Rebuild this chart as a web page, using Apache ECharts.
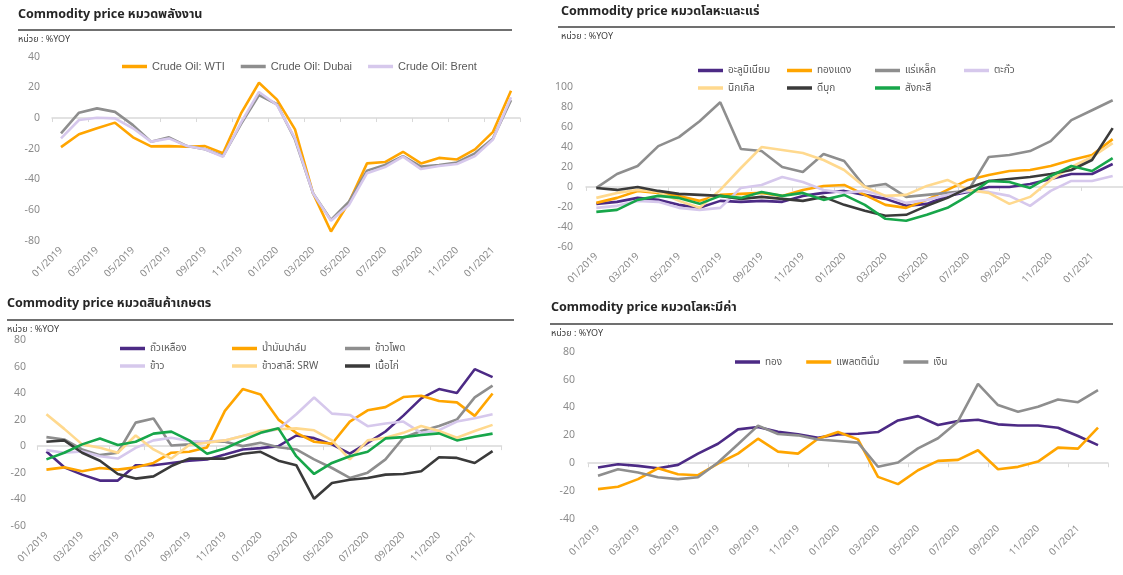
<!DOCTYPE html>
<html>
<head>
<meta charset="utf-8">
<script src="https://cdn.jsdelivr.net/npm/echarts@6/dist/echarts.min.js"></script>
<style>
  html, body { margin: 0; padding: 0; background: #fff; }
  #main { width: 1123px; height: 575px; }
</style>
</head>
<body>
<div id="main"></div>
<script>
// เดือน 01/2019 - 02/2021
const months = ['01/2019','02/2019','03/2019','04/2019','05/2019','06/2019','07/2019','08/2019','09/2019','10/2019','11/2019','12/2019',
  '01/2020','02/2020','03/2020','04/2020','05/2020','06/2020','07/2020','08/2020','09/2020','10/2020','11/2020','12/2020',
  '01/2021','02/2021'];

// หมวดพลังงาน
const wti   = [-19, -10.6, -6.7, -3, -12.6, -18.5, -18.3, -18.7, -18.3, -23, 3, 23, 12, -7.4, -49, -74, -55, -29.6, -28.7, -22, -29.6, -26, -27, -20.4, -9, 17.8];
const dubai = [-10, 3.5, 6.3, 4, -4.6, -15.4, -12.6, -18.3, -20.4, -24.8, -4, 15, 9, -14, -49, -66.5, -54.5, -34.3, -30.6, -24.8, -31.7, -30.6, -29, -23, -13.3, 11.7];
const brent = [-13.3, -1.3, 0.2, -0.2, -6.7, -15.4, -13.3, -18.3, -20.4, -25.2, -3, 17, 8.5, -13.3, -49, -67, -56.7, -36, -32, -25.2, -33.3, -31.3, -30, -24.8, -14, 13.5];

// หมวดโลหะและแร่
const aluminium = [-17, -15, -11, -13, -18, -21, -14, -15, -14, -15, -9, -6, -4, -8, -12, -19, -17, -9, -5, 0, 0, 3, 8, 13, 13, 23];
const copper    = [-16, -11, -4, -6, -9, -14, -8, -7, -6, -9, -3, 1, 2, -8, -18, -21, -13, -3, 7, 12, 16, 17, 21, 27, 32, 48];
const ironOre   = [-1, 13, 21, 41, 50, 66, 85, 38, 36, 20, 15, 33, 26, 0, 3, -10, -8, -6, -4, 30, 32, 36, 46, 67, 77, 87];
const lead      = [-21, -19, -14, -15, -21, -23, -21, -1, 2, 10, 5, -3, -6, -4, -9, -16, -13, -8, -4, -5, -9, -19, -4, 6, 6, 11];
const nickel    = [-11, -6, -3, -5, -14, -21, -3, 19, 40, 37, 34, 27, 17, 0, -9, -8, 1, 7, -3, -6, -17, -10, 7, 20, 30, 44];
const tin       = [-1, -3, 0, -4, -7, -8, -9, -12, -10, -12, -14, -10, -18, -24, -29, -28, -19, -11, -1, 6, 8, 10, 13, 17, 27, 59];
const zinc      = [-25, -23, -13, -9, -11, -17, -9, -11, -5, -9, -6, -13, -8, -18, -32, -34, -28, -21, -9, 6, 5, -1, 11, 21, 16, 29];

// หมวดสินค้าเกษตร
const soybean = [-4, -16, -21.5, -26, -26, -14.4, -14.4, -12.7, -11, -10, -6.3, -2.5, -1.5, 0, 8, 6, 1.3, -5.6, 2.5, 11, 23, 36, 43, 40, 58, 52];
const palmOil = [-17.7, -16, -19, -16.5, -17.7, -16, -12.7, -5, -4.3, -1, 26.6, 43, 39, 20, 10, 3.3, 1.8, 18.5, 27, 29.4, 37, 38, 34, 33, 22.8, 39.7];
const corn    = [6.8, 5, -2.5, -6.8, -5, 17.7, 20.8, 0.5, 1.3, 3.3, 3.3, 0, 2.5, -0.8, -2.5, -10, -16.5, -24, -20, -10, 6.3, 11.4, 15.2, 20, 36.7, 45.6];
const rice    = [-3, -5, -4, -7.6, -9.4, -1.3, 4.3, 6.3, 3.8, 3.3, 4.3, 7.6, 10, 12.7, 24, 36.7, 24.5, 23.5, 15, 17, 18.5, 10, 12, 18.5, 21, 24];
const wheat   = [24, 13, 1.3, -1.3, -5, 8, -2.5, -9.4, 0.8, 2.5, 4.3, 7.6, 11.4, 12.7, 13.4, 11.9, 4.3, -10, 4.3, 6.3, 10, 15.2, 11.4, 6.3, 11.4, 16];
const chicken = [3.3, 4.3, -5, -11, -21, -24.5, -22.8, -15, -9.4, -9.4, -9.4, -5.8, -4.3, -11, -14.4, -39.7, -27.8, -25.3, -24, -21.5, -21, -19, -8.4, -8.9, -12.7, -3.8];
const greenLine = [-10, -5, 1.3, 5.8, 0.8, 3.3, 9.4, 10.9, 4.3, -5.8, -1.8, 4.3, 10, 13.4, -7.6, -21, -12.7, -7.6, -4.3, 5.8, 6.8, 8.4, 9.6, 4.3, 7, 9.4];

// หมวดโลหะมีค่า
const gold     = [-3.1, -0.7, -1.9, -3.6, -1.2, 6.9, 14, 24.3, 26, 22.6, 20.7, 18.3, 20.7, 21.2, 22.4, 30.7, 33.8, 27.4, 30.2, 31.2, 27.9, 27.1, 27.1, 25.5, 19.5, 13];
const platinum = [-18.6, -16.9, -11.4, -3.6, -7.9, -8.6, -0.2, 6.9, 17.6, 8.3, 6.9, 17.6, 22.4, 17.1, -9.8, -15, -5, 1.7, 2.4, 9.3, -4.3, -2.6, 1.2, 11.2, 10.5, 25.5];
const silver   = [-9, -4.3, -6.7, -10, -11.4, -10, 0.5, 13.6, 27, 21, 20, 17, 16, 14.8, -2.5, 0.5, 10.7, 17.9, 30, 57, 41.7, 37, 40.5, 45.7, 43.8, 52.4];

const C = {
  orange: '#FFA500', gray: '#8E8E8E', lav: '#D6C8EC', purple: '#4C2A85',
  yellow: '#FFD98E', dark: '#3A3A3A', green: '#17A64A'
};
const FONT = "'Noto Sans', 'Noto Sans Thai', Tahoma, sans-serif";

const myChart = echarts.init(document.getElementById('main'));

const grids = [
  { left: 52, top: 56.7, width: 468, height: 184 },
  { left: 586, top: 87.3, width: 540, height: 159.4 },
  { left: 37.5, top: 340, width: 464, height: 185.7 },
  { left: 588, top: 351.7, width: 520, height: 167.3 }
];
const yRanges = [[-80, 40, 20], [-60, 100, 20], [-60, 80, 20], [-40, 80, 20]];
const yMargins = [12, 13, 11.5, 13];

const xAxes = [], yAxes = [];
grids.forEach((g, i) => {
  // เส้นแกนที่ศูนย์
  xAxes.push({
    gridIndex: i, type: 'category', data: months, position: 'bottom',
    axisLine: { onZero: true, lineStyle: { color: '#d9d9d9', width: 1.5 } },
    axisTick: { show: true, interval: 1, length: 4, lineStyle: { color: '#d9d9d9' } },
    axisLabel: { show: false, interval: 1 }
  });
  // ป้ายเดือนด้านล่าง
  xAxes.push({
    gridIndex: i, type: 'category', data: months, position: 'bottom',
    axisLine: { show: false, onZero: false }, axisTick: { show: false },
    axisLabel: { interval: 1, rotate: 45, fontSize: 10, color: '#8c8c8c', margin: 8, fontFamily: FONT }
  });
  yAxes.push({
    gridIndex: i, type: 'value', min: yRanges[i][0], max: yRanges[i][1], interval: yRanges[i][2],
    axisLine: { show: false }, axisTick: { show: false }, splitLine: { show: false },
    axisLabel: { fontSize: 10.5, color: '#8c8c8c', margin: yMargins[i], fontFamily: FONT }
  });
});

function line(name, data, color, g) {
  return {
    name: name, type: 'line', data: data, xAxisIndex: g * 2, yAxisIndex: g,
    symbol: 'none', lineStyle: { width: 2.6, color: color }, itemStyle: { color: color },
    animation: false
  };
}

const series = [
  line('Crude Oil: WTI', wti, C.orange, 0),
  line('Crude Oil: Dubai', dubai, C.gray, 0),
  line('Crude Oil: Brent', brent, C.lav, 0),

  line('อะลูมิเนียม', aluminium, C.purple, 1),
  line('ทองแดง', copper, C.orange, 1),
  line('แร่เหล็ก', ironOre, C.gray, 1),
  line('ตะกั่ว', lead, C.lav, 1),
  line('นิกเกิล', nickel, C.yellow, 1),
  line('ดีบุก', tin, C.dark, 1),
  line('สังกะสี', zinc, C.green, 1),

  line('ถั่วเหลือง', soybean, C.purple, 2),
  line('น้ำมันปาล์ม', palmOil, C.orange, 2),
  line('ข้าวโพด', corn, C.gray, 2),
  line('ข้าว', rice, C.lav, 2),
  line('ข้าวสาลี: SRW', wheat, C.yellow, 2),
  line('เนื้อไก่', chicken, C.dark, 2),
  line('-', greenLine, C.green, 2),

  line('ทอง', gold, C.purple, 3),
  line('แพลตตินั่ม', platinum, C.orange, 3),
  line('เงิน', silver, C.gray, 3)
];

function legend(names, left, top, opts) {
  return Object.assign({
    data: names, left: left, top: top, orient: 'horizontal', padding: 0,
    icon: 'rect', itemWidth: 25, itemHeight: 3.5, itemGap: 16, selectedMode: false,
    textStyle: { fontSize: 10, color: '#595959', fontFamily: FONT }
  }, opts || {});
}
// คอลัมน์ของคำอธิบาย (สองแถว)
function column(names, left, top) {
  return legend(names, left, top, { orient: 'vertical', itemGap: 7.5 });
}

const legends = [
  legend(['Crude Oil: WTI', 'Crude Oil: Dubai', 'Crude Oil: Brent'], 122, 61,
    { textStyle: { fontSize: 11, color: '#595959', fontFamily: "'Liberation Sans', Arial, sans-serif" } }),
  column(['อะลูมิเนียม', 'นิกเกิล'], 698, 65.5),
  column(['ทองแดง', 'ดีบุก'], 787, 65.5),
  column(['แร่เหล็ก', 'สังกะสี'], 875, 65.5),
  column(['ตะกั่ว'], 964, 65.5),
  column(['ถั่วเหลือง', 'ข้าว'], 120, 343.5),
  column(['น้ำมันปาล์ม', 'ข้าวสาลี: SRW'], 232, 343.5),
  column(['ข้าวโพด', 'เนื้อไก่'], 345, 343.5),
  legend(['ทอง', 'แพลตตินั่ม', 'เงิน'], 735, 357, { itemGap: 24 })
];

function titleAt(text, left, top, size, bold) {
  return {
    text: text, left: left, top: top, padding: 0,
    textStyle: { fontSize: size, fontWeight: bold ? 'bold' : 'normal', color: bold ? '#262626' : '#404040', fontFamily: FONT }
  };
}

const titles = [
  titleAt('Commodity price หมวดพลังงาน', 18, 8, 12.5, true),
  titleAt('หน่วย : %YOY', 18, 35, 9, false),
  titleAt('Commodity price หมวดโลหะและแร่', 561, 5, 12.5, true),
  titleAt('หน่วย : %YOY', 561, 32, 9, false),
  titleAt('Commodity price หมวดสินค้าเกษตร', 7, 297, 12.5, true),
  titleAt('หน่วย : %YOY', 7, 325, 9, false),
  titleAt('Commodity price หมวดโลหะมีค่า', 551, 301, 12.5, true),
  titleAt('หน่วย : %YOY', 551, 329, 9, false)
];

function rule(x1, x2, y) {
  return { type: 'line', shape: { x1: x1, y1: y, x2: x2, y2: y }, style: { stroke: '#404040', lineWidth: 1.5 }, silent: true };
}

const option = {
  backgroundColor: '#ffffff',
  animation: false,
  title: titles,
  legend: legends,
  grid: grids,
  xAxis: xAxes,
  yAxis: yAxes,
  series: series,
  graphic: [
    rule(18, 512, 30),
    rule(558, 1115, 27),
    rule(7, 514, 320),
    rule(550, 1113, 324)
  ]
};

myChart.setOption(option);
window.addEventListener('resize', () => myChart.resize());
</script>
</body>
</html>
